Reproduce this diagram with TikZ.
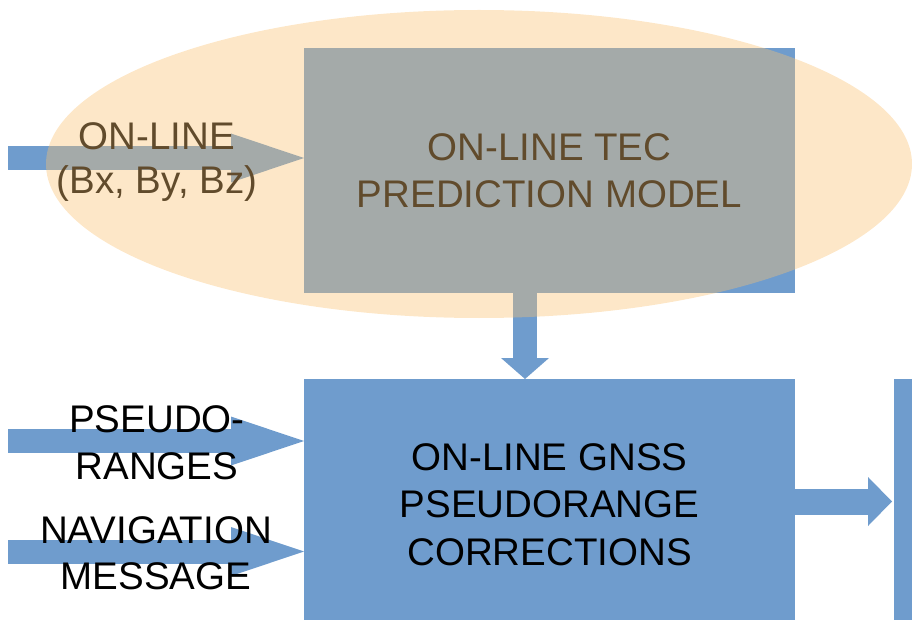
\documentclass[tikz,border=0pt]{standalone}
\usepackage{fontspec}
\setmainfont{Liberation Sans}
\usetikzlibrary{arrows.meta,shapes.geometric}
\definecolor{boxblue}{RGB}{111,156,205}
\definecolor{haze}{RGB}{250,194,114}
\begin{document}
\begin{tikzpicture}[x=1pt,y=-1pt,
  block/.style={rectangle, fill=boxblue, inner sep=0pt, anchor=north west},
  label/.style={font=\fontsize{38.5}{44}\selectfont, anchor=base, inner sep=0pt, text=black},
  flow/.style={draw=boxblue, line width=24pt},
  bighead/.style={-{Triangle[length=73pt,width=49pt,line width=0pt 0 0]}},
  downhead/.style={-{Triangle[length=21pt,width=48pt,line width=0pt 0 0]}},
  outhead/.style={-{Triangle[length=24pt,width=49pt,line width=0pt 0 0]}}]
\useasboundingbox (0,0) rectangle (912,620);

% processing blocks
\node[block, minimum width=491pt, minimum height=245pt] (tec) at (304,48) {};
\node[block, minimum width=491pt, minimum height=260pt] (gnss) at (304,379) {};
\node[block, minimum width=40pt, minimum height=260pt] (out) at (894,379) {};

% inputs and flows between blocks
\coordinate (in1) at (8,158);
\coordinate (in2) at (8,441);
\coordinate (in3) at (8,551.5);
\coordinate (dn) at (525,0);
\coordinate (rt) at (0,501.5);
\draw[flow, bighead] (in1) -- (in1 -| tec.west);
\draw[flow, bighead] (in2) -- (in2 -| gnss.west);
\draw[flow, bighead] (in3) -- (in3 -| gnss.west);
\draw[flow, downhead] (dn |- tec.south) -- (dn |- gnss.north);
\draw[flow, outhead, line width=26pt, shorten >=2pt] (rt -| gnss.east) -- (rt -| out.west);

% block texts
\node[label] (tec1) at (549.5,161) {ON-LINE TEC};
\node[label] (tec2) at (549.5,208) {PREDICTION MODEL};
\node[label] (g1) at (549.5,470) {ON-LINE GNSS};
\node[label] (g2) at (549.5,517) {PSEUDORANGE};
\node[label] (g3) at (549.5,565) {CORRECTIONS};

% input labels
\node[label] (m1) at (157,150) {ON-LINE};
\node[label] (m2) at (157,194) {(Bx, By, Bz)};
\node[label] (p1) at (157,432) {PSEUDO-};
\node[label] (p2) at (157,479) {RANGES};
\node[label] (n1) at (156,543) {NAVIGATION};
\node[label] (n2) at (156,589) {MESSAGE};

% translucent ellipse over the TEC model
\node[ellipse, inner sep=0pt, minimum width=866pt, minimum height=308pt,
      fill=haze, fill opacity=0.39] (zone) at (479,164) {};
\end{tikzpicture}
\end{document}
